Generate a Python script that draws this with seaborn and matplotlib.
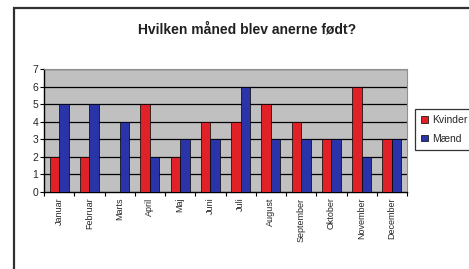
import pandas as pd
import seaborn as sns
import matplotlib.pyplot as plt
from matplotlib.patches import Rectangle

months = ["Januar", "Februar", "Marts", "April", "Maj", "Juni", "Juli",
          "August", "September", "Oktober", "November", "December"]
kvinder = [2, 2, 0, 5, 2, 4, 4, 5, 4, 3, 6, 3]
maend = [5, 5, 4, 2, 3, 3, 6, 3, 3, 3, 2, 3]

data = pd.DataFrame({
    "Måned": months * 2,
    "Antal": kvinder + maend,
    "Køn": ["Kvinder"] * 12 + ["Mænd"] * 12,
})

sns.set_style("white")
plt.rcParams['font.family'] = ['Liberation Sans', 'DejaVu Sans']

fig = plt.figure(figsize=(4.69, 2.69), dpi=100)
fig.patch.set_facecolor("white")

# outer chart frame (cut off at right/bottom like the scan)
fig.patches.append(Rectangle((14 / 469, -0.1), 1.2, 1.1 - 8 / 269,
                             transform=fig.transFigure, fill=False,
                             edgecolor="#303030", linewidth=1.6))

ax = fig.add_axes([44 / 469, 1 - 192 / 269, (407 - 44) / 469, (192 - 69) / 269])
ax.set_facecolor("#c0c0c0")

sns.barplot(data=data, x="Måned", y="Antal", hue="Køn",
            palette={"Kvinder": "#e02128", "Mænd": "#2a34a8"},
            saturation=1, width=0.62, edgecolor="black", linewidth=0.5,
            ax=ax, zorder=3)

ax.set_ylim(0, 7)
ax.set_xlim(-0.5, 11.5)
ax.set_yticks(range(8))
for y in range(1, 8):
    ax.axhline(y, color="black", linewidth=0.9, zorder=1)
ax.set_xlabel("")
ax.set_ylabel("")
ax.tick_params(axis="x", length=0, labelsize=6.5, labelrotation=90, pad=4)
ax.tick_params(axis="y", length=3, width=0.8, labelsize=7.5, left=True,
               color="black", pad=1)
ax.set_xticks([i + 0.5 for i in range(-1, 12)], minor=True)
ax.tick_params(axis="x", which="minor", length=3, width=0.8, bottom=True,
               color="black")
for s in ["left", "bottom"]:
    ax.spines[s].set_color("black")
    ax.spines[s].set_linewidth(1.0)
for s in ["top", "right"]:
    ax.spines[s].set_color("#909090")
    ax.spines[s].set_linewidth(0.8)

ax.legend_.remove()
handles, labels = ax.get_legend_handles_labels()
leg = fig.legend(handles[:2], labels[:2], loc="upper left",
                 bbox_to_anchor=(415 / 469, 1 - 109 / 269),
                 fontsize=7.5, frameon=True, fancybox=False,
                 handlelength=0.6, handleheight=0.6, borderpad=0.6,
                 labelspacing=0.8, handletextpad=0.4, borderaxespad=0)
leg.get_frame().set_edgecolor("black")
leg.get_frame().set_linewidth(0.9)

fig.text(247 / 469, 1 - 30 / 269, "Hvilken måned blev anerne født?",
         ha="center", va="center", fontsize=10, fontweight="bold",
         color="#202020")

plt.savefig("out.png", dpi=100)
